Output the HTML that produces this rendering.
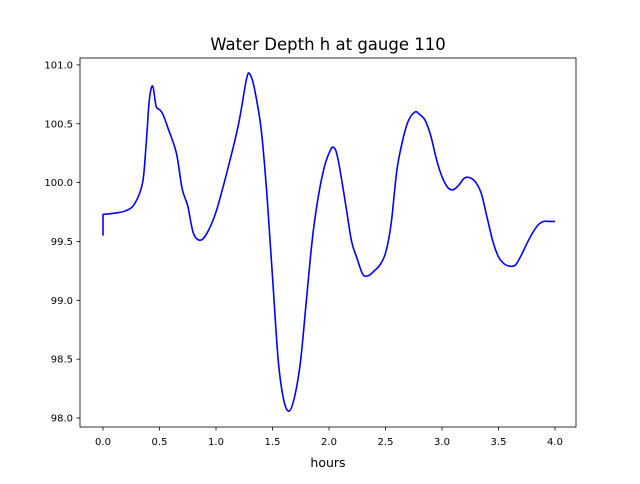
<!DOCTYPE html>
<html><head><meta charset="utf-8"><style>
body{margin:0;background:#fff;font-family:"DejaVu Sans","Liberation Sans",sans-serif}
svg text{font-family:"DejaVu Sans","Liberation Sans",sans-serif;fill:#000}
</style></head><body>
<svg id="chart" width="640" height="480" viewBox="0 0 640 480" xmlns="http://www.w3.org/2000/svg">
<rect width="640" height="480" fill="#fff"/>
<text x="328" y="50" font-size="16.5" text-anchor="middle">Water Depth h at gauge 110</text>
<g id="xt"></g>
<g id="yt"></g>
<text x="328" y="467" font-size="12.5" text-anchor="middle">hours</text>
<path id="line" fill="none" stroke="#0000ff" stroke-width="1.6" stroke-linejoin="round"/>
<rect x="80" y="58" width="496" height="369" fill="none" stroke="#000" stroke-width="0.8"/>
</svg>
<script>
const hours=[0,0,0.1,0.2,0.28,0.35,0.38,0.41,0.44,0.47,0.5,0.53,0.58,0.65,0.7,0.75,0.8,0.86,0.92,1.0,1.1,1.2,1.27,1.3,1.34,1.4,1.45,1.5,1.55,1.6,1.65,1.7,1.75,1.8,1.85,1.9,1.95,2.0,2.04,2.08,2.15,2.2,2.25,2.3,2.35,2.4,2.45,2.5,2.55,2.6,2.65,2.7,2.76,2.8,2.85,2.9,2.95,3.0,3.05,3.1,3.15,3.2,3.25,3.3,3.35,3.4,3.45,3.5,3.55,3.6,3.65,3.7,3.75,3.8,3.85,3.9,3.95,4.0];
const depth=[99.55,99.73,99.74,99.76,99.82,100.0,100.3,100.7,100.82,100.65,100.62,100.58,100.45,100.25,99.95,99.8,99.57,99.51,99.57,99.75,100.1,100.5,100.88,100.92,100.8,100.45,99.9,99.2,98.5,98.15,98.06,98.2,98.5,99.0,99.5,99.85,100.1,100.25,100.3,100.2,99.8,99.5,99.35,99.22,99.21,99.25,99.3,99.4,99.65,100.1,100.35,100.52,100.6,100.58,100.53,100.4,100.2,100.05,99.96,99.94,99.98,100.04,100.04,100.0,99.9,99.7,99.5,99.37,99.31,99.29,99.3,99.38,99.48,99.57,99.64,99.67,99.67,99.67];
const xTicks=[0,0.5,1,1.5,2,2.5,3,3.5,4];
const yTicks=[98,98.5,99,99.5,100,100.5,101];
const xs=v=>103+v*113;
const ys=v=>418-(v-98)*117.7;
const NS="http://www.w3.org/2000/svg";
const P=hours.map((h,i)=>[xs(h),ys(depth[i])]);
let d='M'+P[0][0].toFixed(1)+','+P[0][1].toFixed(1)+' L'+P[1][0].toFixed(1)+','+P[1][1].toFixed(1);
for(let i=1;i<P.length-1;i++){
  const p0=P[Math.max(1,i-1)],p1=P[i],p2=P[i+1],p3=P[Math.min(P.length-1,i+2)];
  const c1=[p1[0]+(p2[0]-p0[0])/6,p1[1]+(p2[1]-p0[1])/6];
  const c2=[p2[0]-(p3[0]-p1[0])/6,p2[1]-(p3[1]-p1[1])/6];
  d+=' C'+c1.map(v=>v.toFixed(1)).join(',')+' '+c2.map(v=>v.toFixed(1)).join(',')+' '+p2.map(v=>v.toFixed(1)).join(',');
}
document.getElementById('line').setAttribute('d',d);
const xt=document.getElementById('xt');
xTicks.forEach(t=>{const l=document.createElementNS(NS,'line');


l.setAttribute('x1',xs(t));l.setAttribute('x2',xs(t));l.setAttribute('y1',427);l.setAttribute('y2',430.5);l.setAttribute('stroke','#000');l.setAttribute('stroke-width','0.8');xt.appendChild(l);
const s=document.createElementNS(NS,'text');


s.setAttribute('x',xs(t));s.setAttribute('y',445);s.setAttribute('font-size','10');s.setAttribute('text-anchor','middle');s.textContent=t.toFixed(1);xt.appendChild(s);});
const yt=document.getElementById('yt');
yTicks.forEach(t=>{const l=document.createElementNS(NS,'line');


l.setAttribute('x1',76.5);l.setAttribute('x2',80);l.setAttribute('y1',ys(t));l.setAttribute('y2',ys(t));l.setAttribute('stroke','#000');l.setAttribute('stroke-width','0.8');yt.appendChild(l);
const s=document.createElementNS(NS,'text');


s.setAttribute('x',73);s.setAttribute('y',ys(t)+3.5);s.setAttribute('font-size','10');s.setAttribute('text-anchor','end');s.textContent=t.toFixed(1);yt.appendChild(s);});
</script>
</body></html>
